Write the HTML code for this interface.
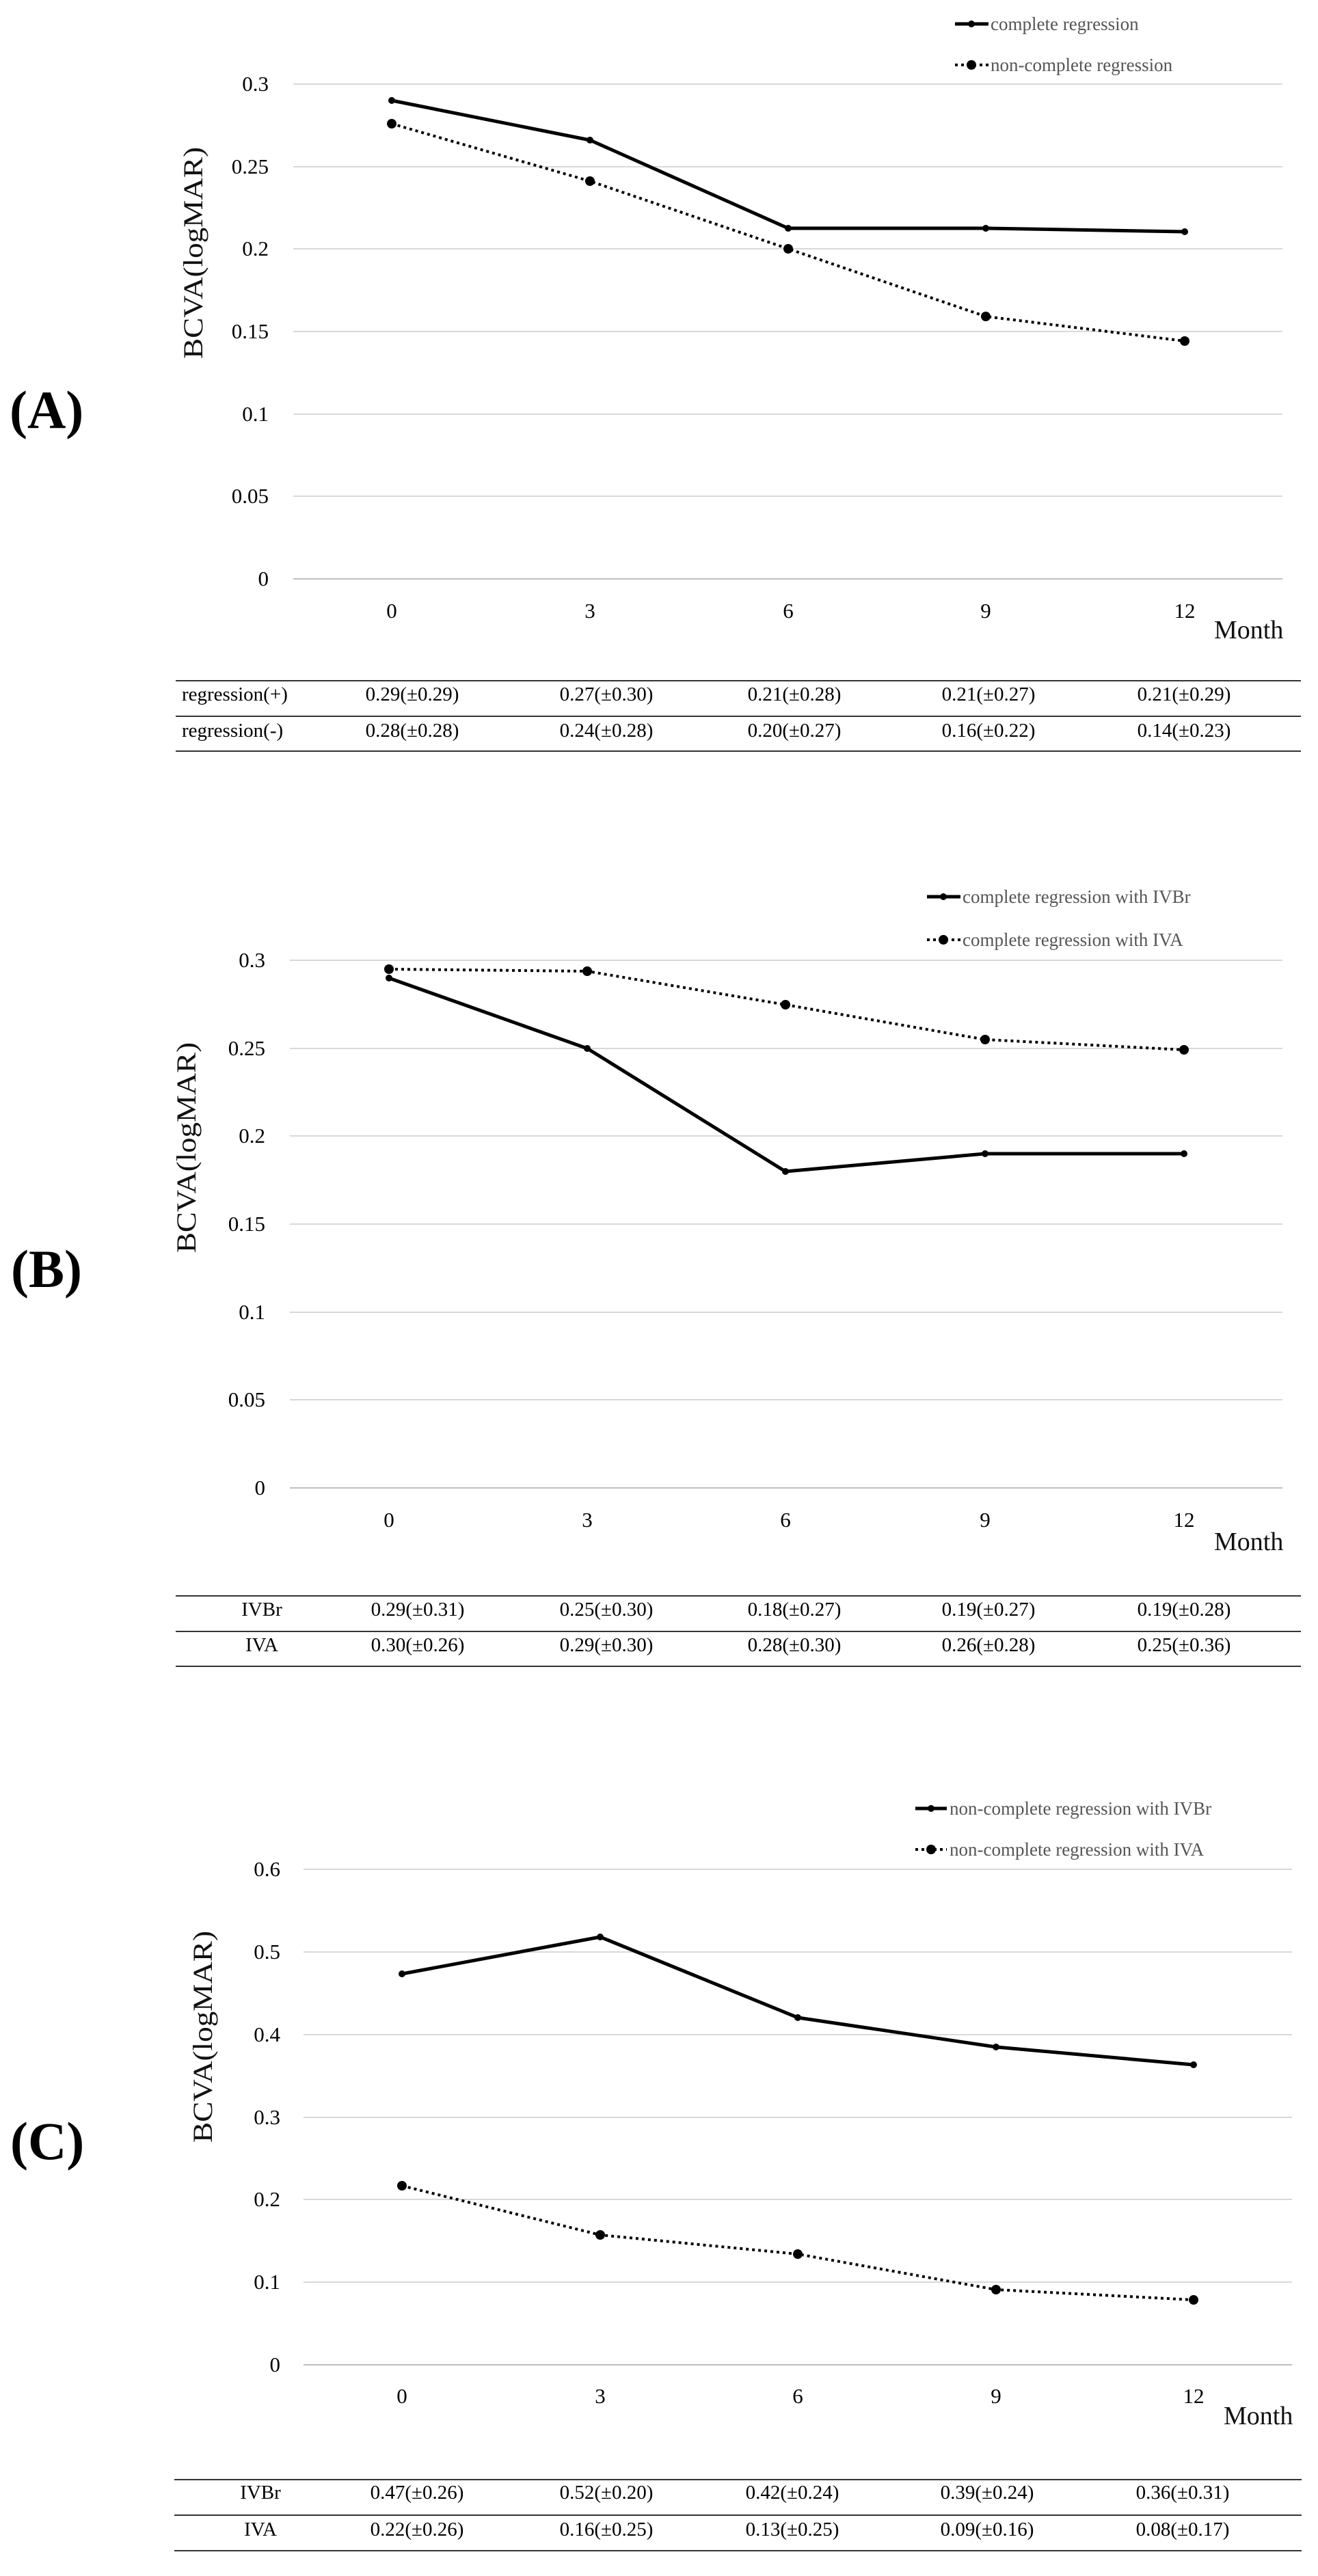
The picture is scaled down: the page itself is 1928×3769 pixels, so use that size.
<!DOCTYPE html>
<html><head><meta charset="utf-8"><style>
html,body{margin:0;padding:0;background:#fff}
svg{display:block}
text{font-family:"Liberation Serif","Noto Serif CJK SC",serif;fill:#000}
.t{font-size:31px;fill:#444}
.lg{font-size:27px;fill:#555}
.tb{font-size:29px;fill:#222}
.yl{font-size:40px;fill:#111}
.pl{font-size:78px;font-weight:bold}
.mo{font-size:38px;fill:#111}
.g{stroke:#d9d9d9;stroke-width:2}
.ax{stroke:#bfbfbf;stroke-width:2}
.s{fill:none;stroke:#000;stroke-width:5;stroke-linejoin:round}
.d{fill:none;stroke:#000;stroke-width:4;stroke-dasharray:4 5}
.tl{stroke:#333;stroke-width:2}
</style></head><body>
<svg width="1928" height="3769" viewBox="0 0 1928 3769" xmlns="http://www.w3.org/2000/svg">
<!-- Panel A -->
<text class="pl" x="14" y="626">(A)</text>
<line class="g" x1="429" y1="123" x2="1876" y2="123"/>
<line class="g" x1="429" y1="244" x2="1876" y2="244"/>
<line class="g" x1="429" y1="364" x2="1876" y2="364"/>
<line class="g" x1="429" y1="485" x2="1876" y2="485"/>
<line class="g" x1="429" y1="606" x2="1876" y2="606"/>
<line class="g" x1="429" y1="726" x2="1876" y2="726"/>
<line class="ax" x1="429" y1="847" x2="1876" y2="847"/>
<g class="t" text-anchor="end">
<text x="393" y="133">0.3</text><text x="393" y="254">0.25</text><text x="393" y="374">0.2</text>
<text x="393" y="495">0.15</text><text x="393" y="616">0.1</text><text x="393" y="736">0.05</text><text x="393" y="857">0</text>
</g>
<g class="t" text-anchor="middle">
<text x="573" y="904">0</text><text x="863" y="904">3</text><text x="1153" y="904">6</text><text x="1442" y="904">9</text><text x="1733" y="904">12</text>
</g>
<text class="mo" x="1776" y="934">Month</text>
<text class="yl" transform="translate(296,370) rotate(-90)" text-anchor="middle" textLength="310" lengthAdjust="spacingAndGlyphs">BCVA(logMAR)</text>
<polyline class="s" points="573,147 863,205 1153,334 1442,334 1733,339"/>
<polyline class="d" points="573,181 863,265 1153,364 1442,463 1733,499"/>
<g fill="#000">
<circle cx="573" cy="147" r="5"/><circle cx="863" cy="205" r="5"/><circle cx="1153" cy="334" r="5"/><circle cx="1442" cy="334" r="5"/><circle cx="1733" cy="339" r="5"/>
<circle cx="573" cy="181" r="7"/><circle cx="863" cy="265" r="7"/><circle cx="1153" cy="364" r="7"/><circle cx="1442" cy="463" r="7"/><circle cx="1733" cy="499" r="7"/>
</g>
<line x1="1397" y1="35" x2="1446" y2="35" stroke="#000" stroke-width="5"/><circle cx="1421" cy="35" r="5"/>
<text class="lg" x="1449" y="44">complete regression</text>
<line x1="1397" y1="95" x2="1446" y2="95" stroke="#000" stroke-width="4" stroke-dasharray="4 5"/><circle cx="1421" cy="95" r="7"/>
<text class="lg" x="1449" y="104">non-complete regression</text>
<line class="tl" x1="257" y1="996" x2="1903" y2="996"/>
<line class="tl" x1="257" y1="1048" x2="1903" y2="1048"/>
<line class="tl" x1="257" y1="1099" x2="1903" y2="1099"/>
<g class="tb">
<text x="266" y="1025">regression(+)</text><text x="266" y="1078">regression(-)</text>
</g>
<g class="tb" text-anchor="middle">
<text x="603" y="1025">0.29(±0.29)</text><text x="887" y="1025">0.27(±0.30)</text><text x="1162" y="1025">0.21(±0.28)</text><text x="1446" y="1025">0.21(±0.27)</text><text x="1732" y="1025">0.21(±0.29)</text>
<text x="603" y="1078">0.28(±0.28)</text><text x="887" y="1078">0.24(±0.28)</text><text x="1162" y="1078">0.20(±0.27)</text><text x="1446" y="1078">0.16(±0.22)</text><text x="1732" y="1078">0.14(±0.23)</text>
</g>

<!-- Panel B -->
<text class="pl" x="16" y="1883">(B)</text>
<line class="g" x1="424" y1="1405" x2="1876" y2="1405"/>
<line class="g" x1="424" y1="1534" x2="1876" y2="1534"/>
<line class="g" x1="424" y1="1662" x2="1876" y2="1662"/>
<line class="g" x1="424" y1="1791" x2="1876" y2="1791"/>
<line class="g" x1="424" y1="1920" x2="1876" y2="1920"/>
<line class="g" x1="424" y1="2048" x2="1876" y2="2048"/>
<line class="ax" x1="424" y1="2177" x2="1876" y2="2177"/>
<g class="t" text-anchor="end">
<text x="388" y="1415">0.3</text><text x="388" y="1544">0.25</text><text x="388" y="1672">0.2</text>
<text x="388" y="1801">0.15</text><text x="388" y="1930">0.1</text><text x="388" y="2058">0.05</text><text x="388" y="2187">0</text>
</g>
<g class="t" text-anchor="middle">
<text x="569" y="2234">0</text><text x="859" y="2234">3</text><text x="1149" y="2234">6</text><text x="1441" y="2234">9</text><text x="1732" y="2234">12</text>
</g>
<text class="mo" x="1776" y="2268">Month</text>
<text class="yl" transform="translate(286,1679) rotate(-90)" text-anchor="middle" textLength="308" lengthAdjust="spacingAndGlyphs">BCVA(logMAR)</text>
<polyline class="s" points="569,1431 859,1534 1149,1714 1441,1688 1732,1688"/>
<polyline class="d" points="569,1418 859,1421 1149,1470 1441,1521 1732,1536"/>
<g fill="#000">
<circle cx="569" cy="1431" r="5"/><circle cx="859" cy="1534" r="5"/><circle cx="1149" cy="1714" r="5"/><circle cx="1441" cy="1688" r="5"/><circle cx="1732" cy="1688" r="5"/>
<circle cx="569" cy="1418" r="7"/><circle cx="859" cy="1421" r="7"/><circle cx="1149" cy="1470" r="7"/><circle cx="1441" cy="1521" r="7"/><circle cx="1732" cy="1536" r="7"/>
</g>
<line x1="1356" y1="1312" x2="1405" y2="1312" stroke="#000" stroke-width="5"/><circle cx="1380" cy="1312" r="5"/>
<text class="lg" x="1408" y="1321">complete regression with IVBr</text>
<line x1="1356" y1="1375" x2="1405" y2="1375" stroke="#000" stroke-width="4" stroke-dasharray="4 5"/><circle cx="1380" cy="1375" r="7"/>
<text class="lg" x="1408" y="1384">complete regression with IVA</text>
<line class="tl" x1="257" y1="2335" x2="1903" y2="2335"/>
<line class="tl" x1="257" y1="2387" x2="1903" y2="2387"/>
<line class="tl" x1="257" y1="2438" x2="1903" y2="2438"/>
<g class="tb" text-anchor="middle">
<text x="383" y="2364">IVBr</text><text x="383" y="2416">IVA</text>
<text x="611" y="2364">0.29(±0.31)</text><text x="887" y="2364">0.25(±0.30)</text><text x="1162" y="2364">0.18(±0.27)</text><text x="1446" y="2364">0.19(±0.27)</text><text x="1732" y="2364">0.19(±0.28)</text>
<text x="611" y="2416">0.30(±0.26)</text><text x="887" y="2416">0.29(±0.30)</text><text x="1162" y="2416">0.28(±0.30)</text><text x="1446" y="2416">0.26(±0.28)</text><text x="1732" y="2416">0.25(±0.36)</text>
</g>

<!-- Panel C -->
<text class="pl" x="15" y="3159">(C)</text>
<line class="g" x1="444" y1="2735" x2="1890" y2="2735"/>
<line class="g" x1="444" y1="2856" x2="1890" y2="2856"/>
<line class="g" x1="444" y1="2977" x2="1890" y2="2977"/>
<line class="g" x1="444" y1="3098" x2="1890" y2="3098"/>
<line class="g" x1="444" y1="3218" x2="1890" y2="3218"/>
<line class="g" x1="444" y1="3339" x2="1890" y2="3339"/>
<line class="ax" x1="444" y1="3460" x2="1890" y2="3460"/>
<g class="t" text-anchor="end">
<text x="410" y="2745">0.6</text><text x="410" y="2866">0.5</text><text x="410" y="2987">0.4</text>
<text x="410" y="3108">0.3</text><text x="410" y="3228">0.2</text><text x="410" y="3349">0.1</text><text x="410" y="3470">0</text>
</g>
<g class="t" text-anchor="middle">
<text x="588" y="3516">0</text><text x="878" y="3516">3</text><text x="1167" y="3516">6</text><text x="1457" y="3516">9</text><text x="1746" y="3516">12</text>
</g>
<text class="mo" x="1790" y="3547">Month</text>
<text class="yl" transform="translate(310,2980) rotate(-90)" text-anchor="middle" textLength="310" lengthAdjust="spacingAndGlyphs">BCVA(logMAR)</text>
<polyline class="s" points="588,2888 878,2834 1167,2952 1457,2995 1746,3021"/>
<polyline class="d" points="588,3198 878,3270 1167,3298 1457,3350 1746,3365"/>
<g fill="#000">
<circle cx="588" cy="2888" r="5"/><circle cx="878" cy="2834" r="5"/><circle cx="1167" cy="2952" r="5"/><circle cx="1457" cy="2995" r="5"/><circle cx="1746" cy="3021" r="5"/>
<circle cx="588" cy="3198" r="7"/><circle cx="878" cy="3270" r="7"/><circle cx="1167" cy="3298" r="7"/><circle cx="1457" cy="3350" r="7"/><circle cx="1746" cy="3365" r="7"/>
</g>
<line x1="1339" y1="2646" x2="1385" y2="2646" stroke="#000" stroke-width="5"/><circle cx="1362" cy="2646" r="5"/>
<text class="lg" x="1389" y="2655">non-complete regression with IVBr</text>
<line x1="1339" y1="2706" x2="1385" y2="2706" stroke="#000" stroke-width="4" stroke-dasharray="4 5"/><circle cx="1362" cy="2706" r="7"/>
<text class="lg" x="1389" y="2715">non-complete regression with IVA</text>
<line class="tl" x1="255" y1="3628" x2="1904" y2="3628"/>
<line class="tl" x1="255" y1="3680" x2="1904" y2="3680"/>
<line class="tl" x1="255" y1="3732" x2="1904" y2="3732"/>
<g class="tb" text-anchor="middle">
<text x="381" y="3656">IVBr</text><text x="381" y="3710">IVA</text>
<text x="610" y="3656">0.47(±0.26)</text><text x="887" y="3656">0.52(±0.20)</text><text x="1159" y="3656">0.42(±0.24)</text><text x="1444" y="3656">0.39(±0.24)</text><text x="1730" y="3656">0.36(±0.31)</text>
<text x="610" y="3710">0.22(±0.26)</text><text x="887" y="3710">0.16(±0.25)</text><text x="1159" y="3710">0.13(±0.25)</text><text x="1444" y="3710">0.09(±0.16)</text><text x="1730" y="3710">0.08(±0.17)</text>
</g>
</svg>
</body></html>
